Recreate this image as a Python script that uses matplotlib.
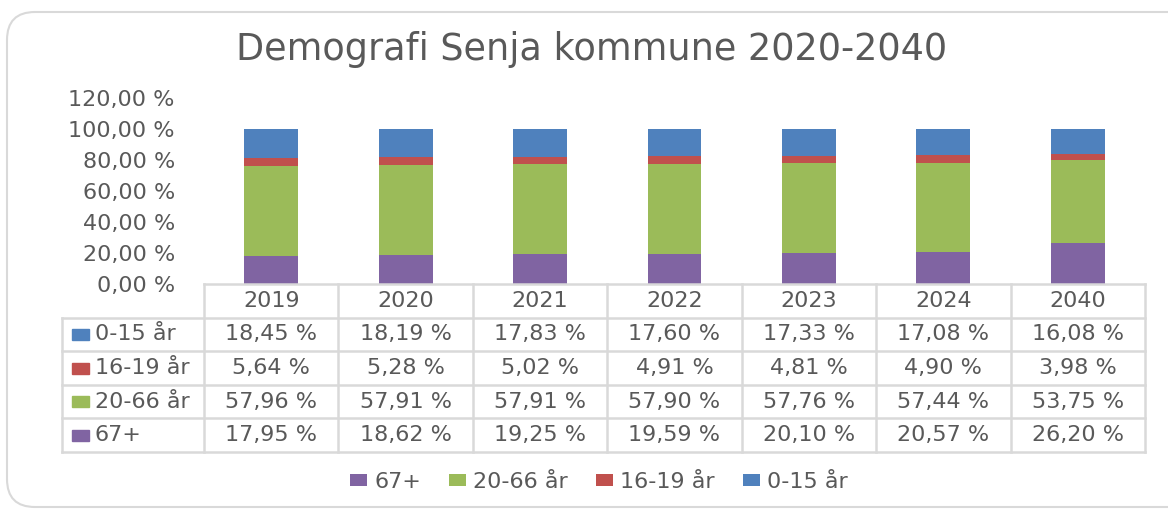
import matplotlib.pyplot as plt
from matplotlib.patches import FancyBboxPatch, Rectangle

plt.rcParams['font.family'] = ['DejaVu Sans']

years = ['2019', '2020', '2021', '2022', '2023', '2024', '2040']
age_0_15 = [18.45, 18.19, 17.83, 17.60, 17.33, 17.08, 16.08]
age_16_19 = [5.64, 5.28, 5.02, 4.91, 4.81, 4.90, 3.98]
age_20_66 = [57.96, 57.91, 57.91, 57.90, 57.76, 57.44, 53.75]
age_67 = [17.95, 18.62, 19.25, 19.59, 20.10, 20.57, 26.20]

labels = ['0-15 år', '16-19 år', '20-66 år', '67+']
colors = ['#4F81BD', '#C0504D', '#9BBB59', '#8064A2']
values = [age_0_15, age_16_19, age_20_66, age_67]

TXT = '#595959'
GRID = '#D9D9D9'
FS = 16
W, H = 1168, 509


def fx(px):
    return px / W


def fy(py):
    return 1 - py / H


def pct(v):
    return f'{v:.2f}'.replace('.', ',') + ' %'


fig = plt.figure(figsize=(W / 100, H / 100), dpi=100)

# chart frame (rounded, cut on the right)
frame = FancyBboxPatch((0.07, 0.02), 12.0, 4.95,
                       boxstyle='round,pad=0,rounding_size=0.28',
                       transform=fig.dpi_scale_trans, facecolor='none',
                       edgecolor=GRID, lw=1.5, zorder=-1)
fig.patches.append(frame)

fig.text(fx(592), fy(50), 'Demografi Senja kommune 2020-2040',
         ha='center', va='center', fontsize=26.4, color=TXT)

# stacked bars
ax = fig.add_axes([fx(204), fy(284), fx(1145) - fx(204), fy(98) - fy(284)])
ax.patch.set_alpha(0)
x = list(range(len(years)))
bottom = [0.0] * len(years)
handles = {}
for lab, vals, col in zip(labels[::-1], values[::-1], colors[::-1]):
    b = ax.bar(x, vals, width=0.4, bottom=bottom, color=col, label=lab)
    handles[lab] = b
    bottom = [bt + v for bt, v in zip(bottom, vals)]

ax.set_xlim(-0.5, len(years) - 0.5)
ax.set_ylim(0, 120)
ax.set_yticks(range(0, 121, 20))
ax.set_yticklabels([pct(t) for t in range(0, 121, 20)])
ax.set_xticks([])
ax.tick_params(axis='y', length=0, pad=21, labelsize=FS, labelcolor=TXT)
for s in ax.spines.values():
    s.set_visible(False)

# data table below the axis
tax = fig.add_axes([fx(204), fy(452), fx(1145) - fx(204), fy(284) - fy(452)])
tax.set_xlim(-0.5, len(years) - 0.5)
tax.set_ylim(5, 0)
tax.axis('off')
n = len(years)
col_w = (1145 - 204) / n
row_h = (452 - 284) / 5
left = -0.5 - (204 - 62) / col_w
kw = dict(color=GRID, lw=1.8, clip_on=False, solid_capstyle='projecting')

tax.plot([-0.5, n - 0.5], [0, 0], **kw)
for r in range(1, 6):
    tax.plot([left, n - 0.5], [r, r], **kw)
for c in range(n + 1):
    tax.plot([c - 0.5, c - 0.5], [0, 5], **kw)
tax.plot([left, left], [1, 5], **kw)

for i, yr in enumerate(years):
    tax.text(i, 0.5, yr, ha='center', va='center', fontsize=FS, color=TXT)
for r, (lab, vals, col) in enumerate(zip(labels, values, colors)):
    yc = r + 1.5
    sw, sh = 17 / col_w, 11 / row_h
    tax.add_patch(Rectangle((-0.5 - (204 - 72) / col_w, yc - sh / 2), sw, sh,
                            color=col, clip_on=False))
    tax.text(-0.5 - (204 - 95) / col_w, yc, lab, ha='left', va='center',
             fontsize=FS, color=TXT)
    for i, v in enumerate(vals):
        tax.text(i, yc, pct(v), ha='center', va='center', fontsize=FS,
                 color=TXT)

order = ['67+', '20-66 år', '16-19 år', '0-15 år']
fig.legend([handles[k] for k in order], order, ncol=4, loc='center',
           bbox_to_anchor=(fx(599), fy(482)), frameon=False, fontsize=FS,
           labelcolor=TXT, handlelength=0.77, handleheight=0.5,
           handletextpad=0.32, columnspacing=1.26)

fig.savefig('out.png', dpi=100)
